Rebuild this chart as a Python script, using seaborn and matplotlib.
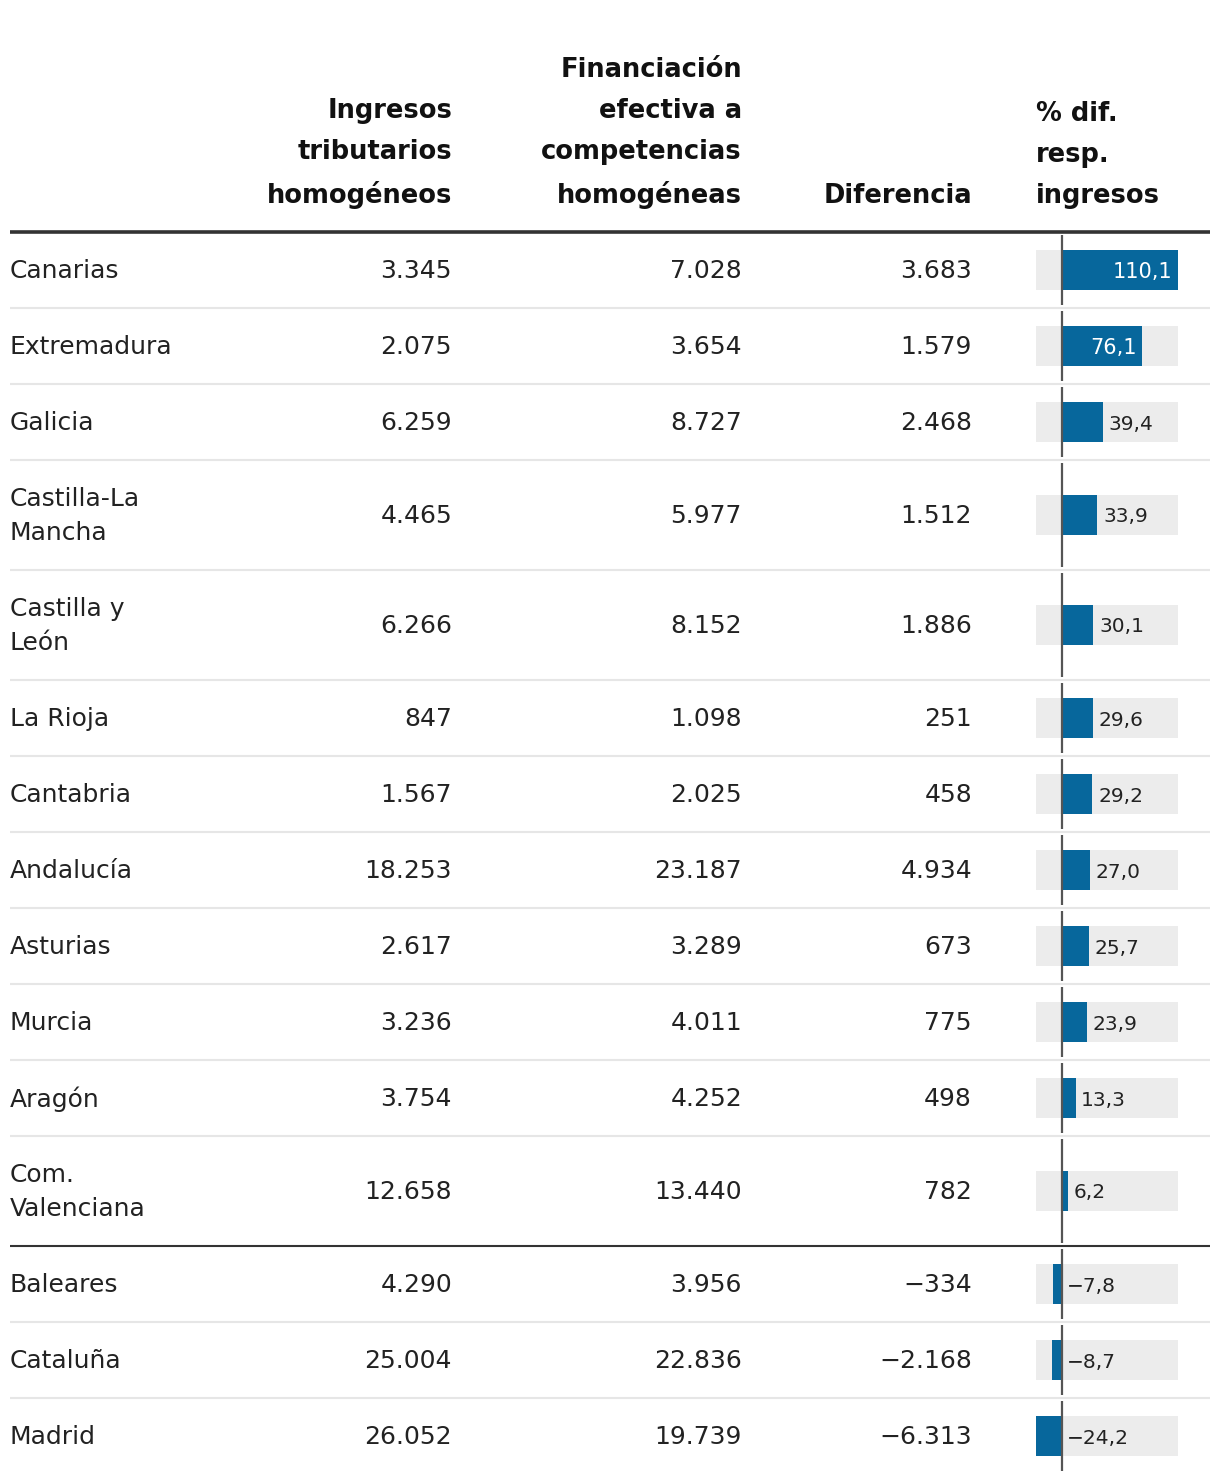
import numpy as np
import seaborn as sns
import matplotlib.pyplot as plt

# datos (millones de euros)
regiones = ["Canarias", "Extremadura", "Galicia", "Castilla-La\nMancha", "Castilla y\nLeón",
            "La Rioja", "Cantabria", "Andalucía", "Asturias", "Murcia", "Aragón",
            "Com.\nValenciana", "Baleares", "Cataluña", "Madrid"]
ingresos = [3345, 2075, 6259, 4465, 6266, 847, 1567, 18253, 2617, 3236, 3754, 12658, 4290, 25004, 26052]
financiacion = [7028, 3654, 8727, 5977, 8152, 1098, 2025, 23187, 3289, 4011, 4252, 13440, 3956, 22836, 19739]
diferencia = [3683, 1579, 2468, 1512, 1886, 251, 458, 4934, 673, 775, 498, 782, -334, -2168, -6313]
pct_dif = [110.1, 76.1, 39.4, 33.9, 30.1, 29.6, 29.2, 27.0, 25.7, 23.9, 13.3, 6.2, -7.8, -8.7, -24.2]

cabeceras = ["Ingresos\ntributarios\nhomogéneos",
             "Financiación\nefectiva a\ncompetencias\nhomogéneas",
             "Diferencia",
             "% dif.\nresp.\ningresos"]

AZUL = "#07679c"
GRIS = "#ececec"
TEXTO = "#222222"
W, H = 1220, 1484


def fmt_int(v):
    s = f"{abs(v):,}".replace(",", ".")
    return ("\u2212" if v < 0 else "") + s


def fmt_dec(v):
    s = f"{abs(v):.1f}".replace(".", ",")
    return ("\u2212" if v < 0 else "") + s


sns.set_theme(style="white")
plt.rcParams["font.family"] = ["DejaVu Sans"]

fig = plt.figure(figsize=(W / 100, H / 100), dpi=100)
ax = fig.add_axes([0, 0, 1, 1])
ax.set_xlim(0, W)
ax.set_ylim(H, 0)
ax.axis("off")

# alturas de fila: 76 px una linea, 110 px dos lineas
alturas = np.array([110 if "\n" in r else 76 for r in regiones])
top0 = 232
bordes = top0 + np.concatenate([[0], np.cumsum(alturas)])
centros = (bordes[:-1] + bordes[1:]) / 2

cols_x = [452, 742, 972]

# cabeceras
for x, txt in zip(cols_x, cabeceras[:3]):
    ax.text(x, 209, txt, ha="right", va="bottom", multialignment="right",
            fontsize=18.5, fontweight="bold", color="#111111", linespacing=1.74)
ax.text(1036, 209, cabeceras[3], ha="left", va="bottom", multialignment="left",
        fontsize=18.5, fontweight="bold", color="#111111", linespacing=1.74)

# lineas
ax.plot([10, 1210], [top0, top0], color="#333333", lw=2.6, solid_capstyle="butt")
n_pos = sum(1 for v in pct_dif if v > 0)
for i, yb in enumerate(bordes[1:-1], start=1):
    if i == n_pos:
        ax.plot([10, 1210], [yb, yb], color="#333333", lw=1.5, solid_capstyle="butt")
    else:
        ax.plot([10, 1210], [yb, yb], color="#e6e6e6", lw=1.5, solid_capstyle="butt")

# textos de filas
for i, c in enumerate(centros):
    ax.text(10, c + 1, regiones[i], ha="left", va="center", fontsize=18,
            color=TEXTO, linespacing=1.5)
    for x, serie in zip(cols_x, [ingresos, financiacion, diferencia]):
        ax.text(x, c + 1, fmt_int(serie[i]), ha="right", va="center",
                fontsize=18, color=TEXTO)

# columna de barras
lo, hi = min(pct_dif), max(pct_dif)
bx = fig.add_axes([1036 / W, 0, 142 / W, 1])
bx.patch.set_alpha(0)
bar_h = 40
bx.barh(centros, hi - lo, left=lo, height=bar_h, color=GRIS, linewidth=0, zorder=1)
min_gap = np.min(np.diff(centros))
sns.barplot(x=pct_dif, y=centros, orient="y", native_scale=True, width=bar_h / min_gap,
            color=AZUL, saturation=1, linewidth=0, errorbar=None, ax=bx, zorder=2)
for i in range(len(centros)):
    bx.plot([0, 0], [bordes[i] + 3, bordes[i + 1] - 3], color="#555555", lw=1.6,
            solid_capstyle="butt", zorder=3)
for v, c in zip(pct_dif, centros):
    if v > 50:
        bx.annotate(fmt_dec(v), (v, c + 2), xytext=(-4, 0), textcoords="offset points",
                    ha="right", va="center", fontsize=15, color="white", zorder=4)
    else:
        bx.annotate(fmt_dec(v), (max(v, 0), c + 2), xytext=(4, 0),
                    textcoords="offset points", ha="left", va="center", fontsize=14.5,
                    color=TEXTO, zorder=4)
bx.set_xlim(lo, hi)
bx.set_ylim(H, 0)
bx.axis("off")

fig.savefig("out.png", dpi=100)
